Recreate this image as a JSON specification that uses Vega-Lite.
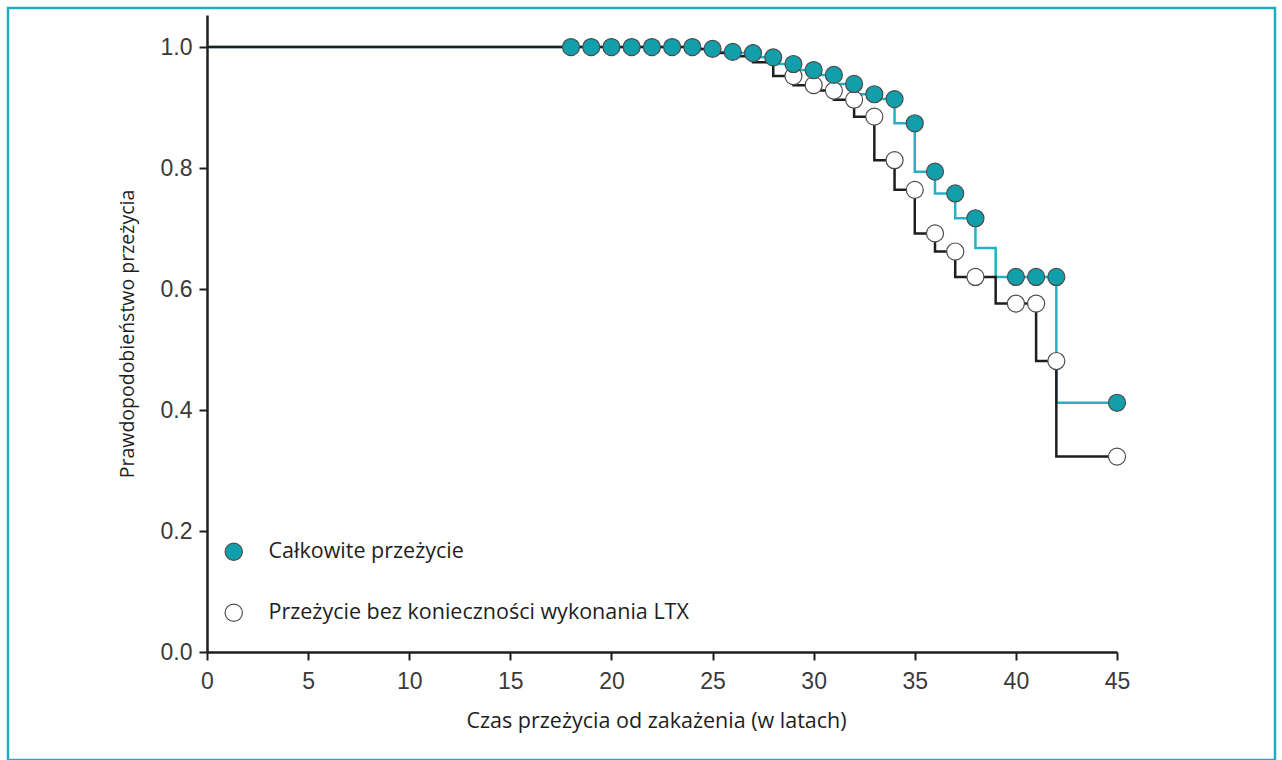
{
  "$schema": "https://vega.github.io/schema/vega-lite/v6.json",
  "autosize": {"type": "none"},
  "padding": {"left": 8, "top": 8, "right": 7, "bottom": 0},
  "width": 1267,
  "height": 752,
  "background": "white",
  "config": {
    "view": {"stroke": "#1aaec2", "strokeWidth": 2.5},
    "axis": {
      "grid": false,
      "labelFlush": false,
      "domainColor": "#1e1e1e",
      "domainWidth": 2.5,
      "tickColor": "#1e1e1e",
      "tickWidth": 2,
      "tickSize": 8,
      "labelFont": "Liberation Sans",
      "labelFontSize": 23,
      "labelColor": "#3a3a3a",
      "titleFont": "Open Sans",
      "titleFontSize": 21.5,
      "titleFontWeight": "normal",
      "titleColor": "#1e1e1e"
    }
  },
  "data": {
    "values": [
      {"czas": 0, "przezycie": 1.0, "grupa": "Przeżycie bez konieczności wykonania LTX", "punkt": false},
      {"czas": 24, "przezycie": 1.0, "grupa": "Przeżycie bez konieczności wykonania LTX", "punkt": false},
      {"czas": 25, "przezycie": 0.997, "grupa": "Przeżycie bez konieczności wykonania LTX", "punkt": false},
      {"czas": 26, "przezycie": 0.99, "grupa": "Przeżycie bez konieczności wykonania LTX", "punkt": false},
      {"czas": 27, "przezycie": 0.985, "grupa": "Przeżycie bez konieczności wykonania LTX", "punkt": false},
      {"czas": 28, "przezycie": 0.975, "grupa": "Przeżycie bez konieczności wykonania LTX", "punkt": false},
      {"czas": 29, "przezycie": 0.952, "grupa": "Przeżycie bez konieczności wykonania LTX", "punkt": true},
      {"czas": 30, "przezycie": 0.937, "grupa": "Przeżycie bez konieczności wykonania LTX", "punkt": true},
      {"czas": 31, "przezycie": 0.928, "grupa": "Przeżycie bez konieczności wykonania LTX", "punkt": true},
      {"czas": 32, "przezycie": 0.913, "grupa": "Przeżycie bez konieczności wykonania LTX", "punkt": true},
      {"czas": 33, "przezycie": 0.885, "grupa": "Przeżycie bez konieczności wykonania LTX", "punkt": true},
      {"czas": 34, "przezycie": 0.813, "grupa": "Przeżycie bez konieczności wykonania LTX", "punkt": true},
      {"czas": 35, "przezycie": 0.764, "grupa": "Przeżycie bez konieczności wykonania LTX", "punkt": true},
      {"czas": 36, "przezycie": 0.692, "grupa": "Przeżycie bez konieczności wykonania LTX", "punkt": true},
      {"czas": 37, "przezycie": 0.662, "grupa": "Przeżycie bez konieczności wykonania LTX", "punkt": true},
      {"czas": 38, "przezycie": 0.62, "grupa": "Przeżycie bez konieczności wykonania LTX", "punkt": true},
      {"czas": 39, "przezycie": 0.62, "grupa": "Przeżycie bez konieczności wykonania LTX", "punkt": false},
      {"czas": 40, "przezycie": 0.576, "grupa": "Przeżycie bez konieczności wykonania LTX", "punkt": true},
      {"czas": 41, "przezycie": 0.576, "grupa": "Przeżycie bez konieczności wykonania LTX", "punkt": true},
      {"czas": 42, "przezycie": 0.481, "grupa": "Przeżycie bez konieczności wykonania LTX", "punkt": true},
      {"czas": 45, "przezycie": 0.323, "grupa": "Przeżycie bez konieczności wykonania LTX", "punkt": true},
      {"czas": 0, "przezycie": 1.0, "grupa": "Całkowite przeżycie", "punkt": false},
      {"czas": 18, "przezycie": 1.0, "grupa": "Całkowite przeżycie", "punkt": true},
      {"czas": 19, "przezycie": 1.0, "grupa": "Całkowite przeżycie", "punkt": true},
      {"czas": 20, "przezycie": 1.0, "grupa": "Całkowite przeżycie", "punkt": true},
      {"czas": 21, "przezycie": 1.0, "grupa": "Całkowite przeżycie", "punkt": true},
      {"czas": 22, "przezycie": 1.0, "grupa": "Całkowite przeżycie", "punkt": true},
      {"czas": 23, "przezycie": 1.0, "grupa": "Całkowite przeżycie", "punkt": true},
      {"czas": 24, "przezycie": 1.0, "grupa": "Całkowite przeżycie", "punkt": true},
      {"czas": 25, "przezycie": 0.997, "grupa": "Całkowite przeżycie", "punkt": true},
      {"czas": 26, "przezycie": 0.992, "grupa": "Całkowite przeżycie", "punkt": true},
      {"czas": 27, "przezycie": 0.99, "grupa": "Całkowite przeżycie", "punkt": true},
      {"czas": 28, "przezycie": 0.983, "grupa": "Całkowite przeżycie", "punkt": true},
      {"czas": 29, "przezycie": 0.972, "grupa": "Całkowite przeżycie", "punkt": true},
      {"czas": 30, "przezycie": 0.962, "grupa": "Całkowite przeżycie", "punkt": true},
      {"czas": 31, "przezycie": 0.954, "grupa": "Całkowite przeżycie", "punkt": true},
      {"czas": 32, "przezycie": 0.939, "grupa": "Całkowite przeżycie", "punkt": true},
      {"czas": 33, "przezycie": 0.922, "grupa": "Całkowite przeżycie", "punkt": true},
      {"czas": 34, "przezycie": 0.914, "grupa": "Całkowite przeżycie", "punkt": true},
      {"czas": 35, "przezycie": 0.874, "grupa": "Całkowite przeżycie", "punkt": true},
      {"czas": 36, "przezycie": 0.794, "grupa": "Całkowite przeżycie", "punkt": true},
      {"czas": 37, "przezycie": 0.758, "grupa": "Całkowite przeżycie", "punkt": true},
      {"czas": 38, "przezycie": 0.717, "grupa": "Całkowite przeżycie", "punkt": true},
      {"czas": 39, "przezycie": 0.668, "grupa": "Całkowite przeżycie", "punkt": false},
      {"czas": 40, "przezycie": 0.62, "grupa": "Całkowite przeżycie", "punkt": true},
      {"czas": 41, "przezycie": 0.62, "grupa": "Całkowite przeżycie", "punkt": true},
      {"czas": 42, "przezycie": 0.62, "grupa": "Całkowite przeżycie", "punkt": true},
      {"czas": 45, "przezycie": 0.412, "grupa": "Całkowite przeżycie", "punkt": true}
    ]
  },
  "encoding": {
    "x": {
      "field": "czas",
      "type": "quantitative",
      "scale": {"domain": [0, 45], "range": [199, 1109], "nice": false, "zero": false},
      "axis": {
        "title": "Czas przeżycia od zakażenia (w latach)",
        "values": [0, 5, 10, 15, 20, 25, 30, 35, 40, 45],
        "offset": -108,
        "labelPadding": 10,
        "titlePadding": 17,
        "titleX": 648
      }
    },
    "y": {
      "field": "przezycie",
      "type": "quantitative",
      "scale": {"domain": [0, 1.053], "range": [644, 7], "nice": false, "zero": false},
      "axis": {
        "title": "Prawdopodobieństwo przeżycia",
        "titleFontSize": 19.5,
        "values": [0, 0.2, 0.4, 0.6, 0.8, 1.0],
        "format": ".1f",
        "offset": -199,
        "labelPadding": 7,
        "titlePadding": 23
      }
    }
  },
  "layer": [
    {
      "transform": [{"filter": "datum.grupa === 'Całkowite przeżycie'"}],
      "mark": {"type": "line", "interpolate": "step-before", "stroke": "#27b0c3", "strokeWidth": 2.5}
    },
    {
      "transform": [{"filter": "datum.grupa === 'Przeżycie bez konieczności wykonania LTX'"}],
      "mark": {"type": "line", "interpolate": "step-before", "stroke": "#1e1e1e", "strokeWidth": 2.5}
    },
    {
      "transform": [{"filter": "datum.punkt"}],
      "mark": {"type": "point", "shape": "circle", "filled": true, "opacity": 1, "size": 290, "stroke": "#4d4d4d", "strokeWidth": 1.2},
      "encoding": {
        "fill": {
          "field": "grupa",
          "type": "nominal",
          "scale": {
            "domain": ["Całkowite przeżycie", "Przeżycie bez konieczności wykonania LTX"],
            "range": ["#119fab", "#ffffff"]
          },
          "legend": {
            "title": null,
            "orient": "none",
            "legendX": 215,
            "legendY": 533,
            "padding": 0,
            "rowPadding": 38,
            "labelOffset": 24,
            "symbolType": "circle",
            "symbolSize": 300,
            "symbolStrokeColor": "#4d4d4d",
            "symbolStrokeWidth": 1.2,
            "symbolOpacity": 1,
            "labelFont": "Open Sans",
            "labelFontSize": 21.5,
            "labelColor": "#1e1e1e",
            "labelLimit": 0
          }
        }
      }
    }
  ]
}
